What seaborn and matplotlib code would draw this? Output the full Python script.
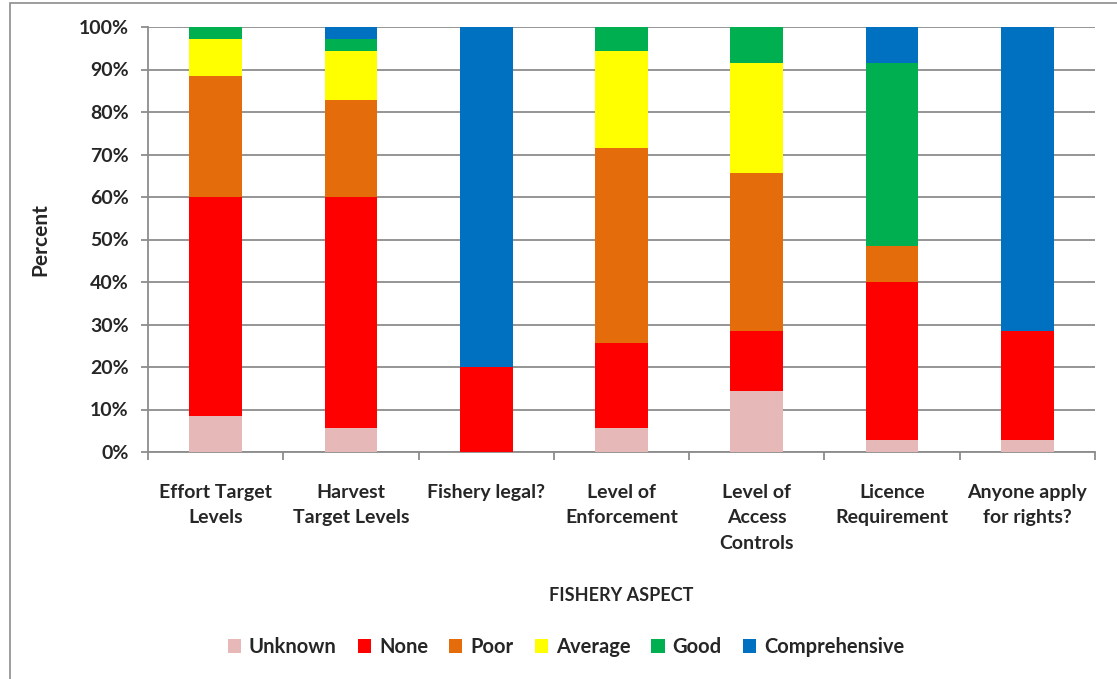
import pandas as pd
import numpy as np
import matplotlib
matplotlib.use("Agg")
import matplotlib.pyplot as plt
import seaborn as sns
from matplotlib.patches import Rectangle, Patch

sns.set_style("white")
plt.rcParams["font.family"] = ["Lato", "DejaVu Sans"]
plt.rcParams["font.weight"] = "bold"

# data (percent of respondents)
aspects = ["Effort Target\nLevels", "Harvest\nTarget Levels", "Fishery legal?",
           "Level of\nEnforcement", "Level of\nAccess\nControls",
           "Licence\nRequirement", "Anyone apply\nfor rights?"]
levels = ["Unknown", "None", "Poor", "Average", "Good", "Comprehensive"]
unknown = [8.57, 5.71, 0.0, 5.71, 14.29, 2.86, 2.86]
none = [51.43, 54.29, 20.0, 20.0, 14.29, 37.14, 25.71]
poor = [28.57, 22.86, 0.0, 45.71, 37.14, 8.57, 0.0]
average = [8.57, 11.43, 0.0, 22.86, 25.71, 0.0, 0.0]
good = [2.86, 2.86, 0.0, 5.71, 8.57, 42.86, 0.0]
comprehensive = [0.0, 2.86, 80.0, 0.0, 0.0, 8.57, 71.43]
colors = ["#E6B9B8", "#FF0000", "#E46C0A", "#FFFF00", "#00B050", "#0070C0"]

df = pd.DataFrame({"aspect": aspects, "Unknown": unknown, "None": none,
                   "Poor": poor, "Average": average, "Good": good,
                   "Comprehensive": comprehensive})
cum = df[levels].cumsum(axis=1)

fig = plt.figure(figsize=(11.17, 6.79), dpi=100)
ax = fig.add_axes([148 / 1117, 1 - 452 / 679, (1095 - 148) / 1117, (452 - 27) / 679])

# stacked bars: draw cumulative totals from the top layer down
for lvl, col in reversed(list(zip(levels, colors))):
    sns.barplot(x=df["aspect"], y=cum[lvl], color=col, width=0.39,
                linewidth=0, saturation=1, ax=ax, zorder=3)

ax.set_ylim(0, 100)
ax.set_xlim(-0.5, len(aspects) - 0.5)
ax.set_yticks(np.arange(0, 101, 10))
ax.set_yticklabels([f"{v}%" for v in range(0, 101, 10)], fontsize=14, fontweight="bold")
ax.yaxis.grid(True, color="#8c8c8c", linewidth=1.3, zorder=0)
ax.set_axisbelow(True)
for s in ["top", "right"]:
    ax.spines[s].set_visible(False)
for s in ["left", "bottom"]:
    ax.spines[s].set_color("#8c8c8c")
    ax.spines[s].set_linewidth(1.3)
ax.tick_params(axis="y", length=5, color="#8c8c8c", width=1.3, pad=9, left=True)
ax.set_xticks(range(len(aspects)))
ax.set_xticklabels(aspects, fontsize=14, fontweight="bold", linespacing=1.6, va="top")
ax.tick_params(axis="x", length=0, pad=23)
ax.set_xticks(np.arange(-0.5, len(aspects), 1), minor=True)
ax.tick_params(axis="x", which="minor", length=6, color="#8c8c8c", width=1.3, bottom=True)

ax.set_xlabel("FISHERY ASPECT", fontsize=13, fontweight="bold")
ax.set_ylabel("Percent", fontsize=15, fontweight="bold")
ax.xaxis.set_label_coords((621 - 148) / (1095 - 148), -(587 - 452) / (452 - 27))
ax.yaxis.set_label_coords(-(148 - 50) / (1095 - 148), (452 - 240) / (452 - 27))

handles = [Patch(facecolor=c, edgecolor="none") for c in colors]
fig.legend(handles, levels, loc="center", bbox_to_anchor=(566 / 1117, 1 - 647 / 679),
           ncol=6, frameon=False, prop={"weight": "bold", "size": 14.5},
           handlelength=0.65, handleheight=0.65, handletextpad=0.4, columnspacing=1.05)

# outer chart border
fig.patches.append(Rectangle((10 / 1117, -0.01), 1.2, 1 - 3 / 679 + 0.01,
                             transform=fig.transFigure, fill=False,
                             edgecolor="#8c8c8c", linewidth=1.2))

fig.savefig("out.png", dpi=100)
